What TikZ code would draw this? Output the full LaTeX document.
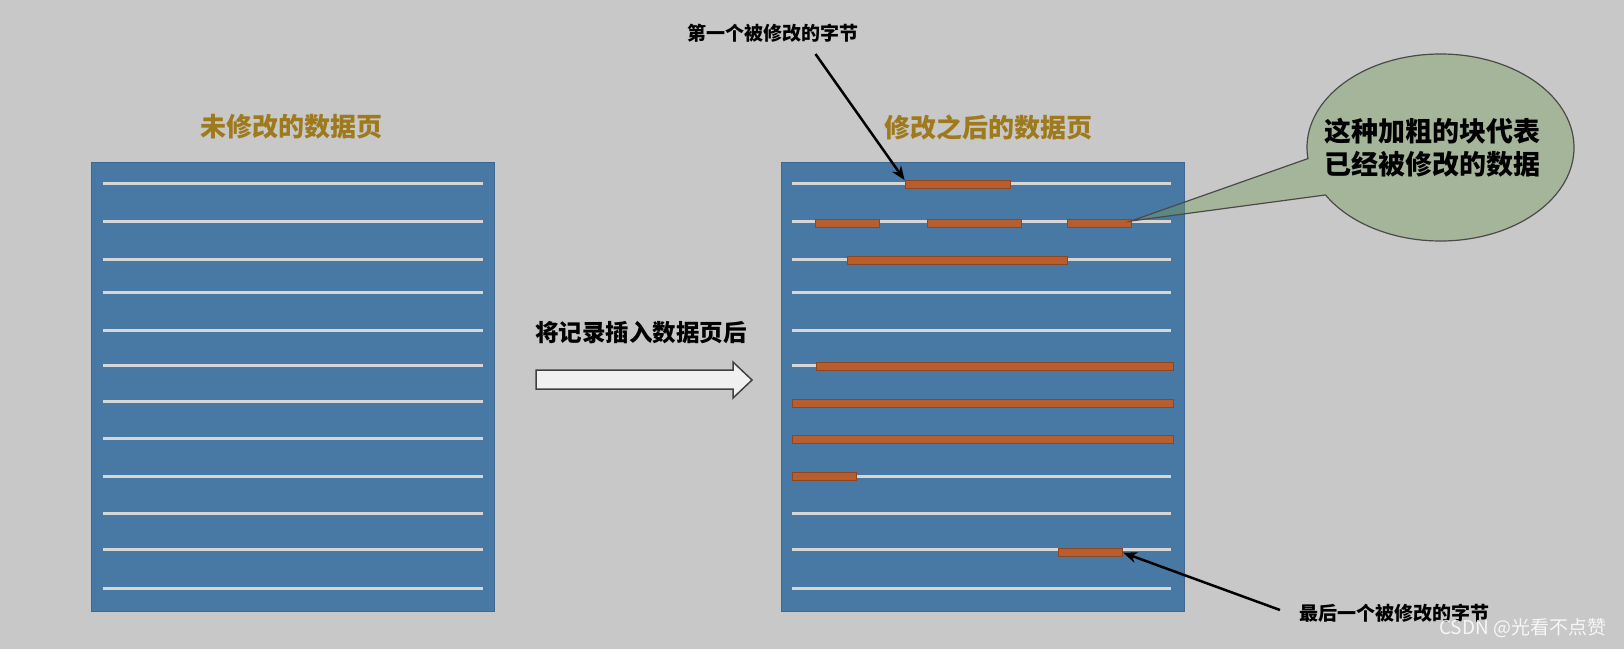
\documentclass[tikz,border=0pt]{standalone}
\usepackage{fontspec}
\newfontfamily\cjk{Noto Sans CJK SC}
\usetikzlibrary{arrows.meta}
\definecolor{bg}{HTML}{C8C8C8}
\definecolor{pageblue}{HTML}{4879A5}
\definecolor{pageedge}{HTML}{3E6892}
\definecolor{rowline}{HTML}{D6D6D6}
\definecolor{barfill}{HTML}{B85D2D}
\definecolor{baredge}{HTML}{8E4520}
\definecolor{titlegold}{HTML}{9E7A1C}
\definecolor{bubblefill}{HTML}{769C5B}
\definecolor{bubbleedge}{HTML}{4A4A4A}
\definecolor{arrowfill}{HTML}{F0F0F0}
\tikzset{
  page/.style={draw=pageedge, fill=pageblue, line width=0.8pt, inner sep=0pt,
    minimum width=403pt, minimum height=449pt},
  rowstroke/.style={draw=rowline, line width=3pt},
  bar/.style={draw=baredge, fill=barfill, line width=0.8pt, inner sep=0pt,
    minimum height=8pt},
  titletext/.style={text=titlegold, inner sep=0pt,
    font=\cjk\bfseries\fontsize{26}{30}\selectfont},
  lbl/.style={text=black, inner sep=0pt,
    font=\cjk\bfseries\fontsize{19}{22}\selectfont},
  midlbl/.style={text=black, inner sep=0pt,
    font=\cjk\bfseries\fontsize{23.5}{27}\selectfont},
  bubtext/.style={text=black, inner sep=0pt, align=center,
    font=\cjk\bfseries\fontsize{27}{33}\selectfont},
  ptr/.style={draw=black, line width=2.5pt, -{Stealth[length=14pt,width=11pt]}},
  blockarrow/.style={draw=black!75, fill=arrowfill, line width=1.5pt, line join=miter},
  bubble/.style={draw=bubbleedge, line width=1.2pt, fill=bubblefill, fill opacity=0.42},
  wm/.style={text=white, text opacity=0.85, inner sep=0pt,
    font=\cjk\fontsize{19}{22}\selectfont},
}
\begin{document}
\begin{tikzpicture}[x=1pt,y=-1pt]
\useasboundingbox (0,0) rectangle (1624,649);
\fill[bg] (0,0) rectangle (1624,649);

% pages
\node[page] (L) at (292.5,386.5) {};
\node[page] (R) at (982.5,386.5) {};

% titles
\node[titletext] (TL) at (291,127) {未修改的数据页};
\node[titletext] (TR) at (988.5,127) {修改之后的数据页};

% row lines
\foreach \y in {183.5,221.7,259,292.1,330.4,365.6,401.9,438.1,476.6,513.7,549.6,588.3}{
  \draw[rowstroke] (102.5,\y) -- (482.5,\y);
  \draw[rowstroke] (792,\y) -- (1171,\y);
}

% modified bars
\node[bar, minimum width=105pt] (b1) at (957.5,184.5) {};
\node[bar, minimum width=64pt] (b2a) at (847.5,223.3) {};
\node[bar, minimum width=94pt] (b2b) at (974,223.3) {};
\node[bar, minimum width=64pt] (b2c) at (1099,223.3) {};
\node[bar, minimum width=220.4pt] (b3) at (957.2,260.5) {};
\node[bar, minimum width=357pt] (b6) at (994.5,366.8) {};
\node[bar, minimum width=381pt] (b7) at (982.5,403) {};
\node[bar, minimum width=381pt] (b8) at (982.5,439.2) {};
\node[bar, minimum width=64pt] (b9) at (824,476.7) {};
\node[bar, minimum width=64.2pt] (b11) at (1090.6,552.7) {};

% labels and pointers
\node[lbl] (t1) at (772.6,33) {第一个被修改的字节};
\coordinate (a1) at (815.5,54);
\draw[ptr] (a1) -- (b1.north west);

\node[lbl] (t2) at (1394.5,613) {最后一个被修改的字节};
\coordinate (a2) at (1280,610);
\draw[ptr] (a2) -- (b11.east);

% middle arrow
\node[midlbl] (mt) at (641,333) {将记录插入数据页后};
\draw[blockarrow] (536,370) -- (733,370) -- (733,362) -- (752,380) -- (733,398)
  -- (733,389) -- (536,389) -- cycle;

% callout bubble
\coordinate (tip) at (1131,221);
\path[bubble] (tip) -- (1307.94,158.57)
  arc[start angle=173.2, end angle=509.5, x radius=133.5, y radius=93.5] -- cycle;
\node[bubtext] (bt) at (1432,148) {这种加粗的块代表\\已经被修改的数据};

% watermark
\node[wm] (wmk) at (1522.7,628.5) {CSDN @光看不点赞};
\end{tikzpicture}
\end{document}
